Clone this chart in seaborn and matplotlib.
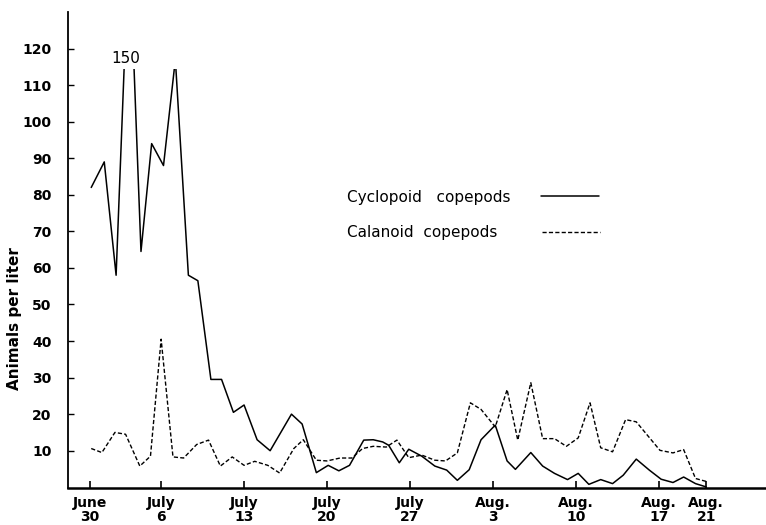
import numpy as np
import pandas as pd
import matplotlib
matplotlib.use('Agg')
import matplotlib.pyplot as plt
import seaborn as sns
from matplotlib.patches import Rectangle
from matplotlib.lines import Line2D

# days after June 30
cyc_day = [0.1, 1.2, 2.2, 3.3, 4.3, 5.2, 6.2, 7.2, 8.3, 9.1,
           10.2, 11.1, 12.1, 13.0, 14.1, 15.2, 17.0, 17.9, 19.1, 20.1,
           21.0, 21.9, 23.1, 23.9, 24.7, 25.2, 26.1, 26.9, 28.0, 29.1,
           30.1, 31.0, 32.0, 33.0, 34.2, 35.2, 35.9, 37.2, 38.2, 39.2,
           40.3, 41.2, 42.1, 43.1, 44.1, 45.0, 46.1, 47.2, 48.2, 49.2,
           50.1, 51.1, 52.0]
cyc_val = [82, 89, 58, 150, 64.5, 94, 88, 117, 58, 56.5,
           29.5, 29.5, 20.5, 22.5, 13, 10, 20, 17.3, 4, 6,
           4.5, 6, 12.9, 13, 12.4, 11.5, 6.7, 10.4, 8.5, 5.8,
           4.7, 1.9, 4.8, 13, 17, 7.2, 4.9, 9.5, 5.8, 3.8,
           2.1, 3.8, 0.8, 2.1, 1.0, 3.3, 7.7, 4.7, 2.2, 1.3,
           2.8, 1.0, 0.1]

cal_day = [0.1, 1.0, 2.1, 3.0, 4.2, 5.1, 6.0, 7.0, 7.9, 9.0,
           10.0, 11.0, 12.0, 13.0, 13.9, 15.0, 16.0, 17.2, 18.0, 19.1,
           20.0, 21.1, 22.1, 23.0, 23.9, 25.0, 25.9, 26.9, 28.0, 29.1,
           30.0, 31.0, 32.1, 33.0, 34.2, 35.2, 36.1, 37.2, 38.2, 39.2,
           40.2, 41.2, 42.2, 43.1, 44.1, 45.2, 46.1, 47.1, 48.1, 49.2,
           50.1, 51.1, 52.0]
cal_val = [10.6, 9.5, 15, 14.5, 5.8, 8.5, 40.5, 8.3, 8.0, 11.7,
           12.9, 5.8, 8.3, 6.0, 7.1, 6.0, 3.9, 10.6, 13, 7.4,
           7.2, 8.0, 8.0, 10.6, 11.2, 11.0, 12.9, 8.1, 8.8, 7.4,
           7.2, 9.4, 23.1, 21.3, 16.5, 26.7, 12.9, 28.6, 13.3, 13.3,
           11.2, 13.5, 23.1, 10.8, 9.7, 18.5, 17.9, 14, 10.1, 9.4,
           10.3, 2.4, 1.6]

tick_days = [0, 6, 13, 20, 27, 34, 41, 48, 52]
tick_labels = ['June\n30', 'July\n6', 'July\n13', 'July\n20', 'July\n27',
               'Aug.\n3', 'Aug.\n10', 'Aug.\n17', 'Aug.\n21']

cyc = pd.DataFrame({'day': cyc_day, 'count': cyc_val})
cal = pd.DataFrame({'day': cal_day, 'count': cal_val})

sns.set_style('ticks')
plt.rcParams['font.family'] = ['DejaVu Sans']
plt.rcParams['text.color'] = 'black'
plt.rcParams['axes.labelcolor'] = 'black'
plt.rcParams['xtick.color'] = 'black'
plt.rcParams['ytick.color'] = 'black'
plt.rcParams['axes.edgecolor'] = 'black'

fig = plt.figure(figsize=(7.66, 5.25), dpi=100)
ax = fig.add_axes([68/766, 37/525, 698/766, 476/525])

dash = (0, (3, 1.6))
sns.lineplot(data=cyc, x='day', y='count', sort=False, estimator=None,
             color='black', lw=1.1, ax=ax, legend=False)
sns.lineplot(data=cal, x='day', y='count', sort=False, estimator=None,
             color='black', lw=1.0, linestyle=dash, ax=ax, legend=False)

# off-scale peak: cut the line below the "150" label
clip = Rectangle((-5, -5), 70, 119.5, transform=ax.transData)
ax.lines[0].set_clip_path(clip)
ax.text(3.0, 117.4, '150', ha='center', va='center', fontsize=11)

ax.set_xlim(-1.86, 57.05)
ax.set_ylim(-0.2, 130)
ax.set_xticks(tick_days, tick_labels)
ax.set_yticks(range(10, 130, 10))
ax.tick_params(axis='x', direction='in', length=5, width=1.2, pad=6, labelsize=10)
ax.tick_params(axis='y', direction='in', length=4, width=1, pad=12, labelsize=10)
for t in ax.get_xticklabels():
    t.set_fontweight('bold')
    t.set_linespacing(1.0)
for t in ax.get_yticklabels():
    t.set_fontweight('bold')

sns.despine(ax=ax)
ax.spines['left'].set_linewidth(1.3)
ax.spines['bottom'].set_linewidth(1.8)

ax.set_xlabel('')
ax.set_ylabel('Animals per liter', fontsize=11, fontweight='bold')
ax.yaxis.set_label_coords(-0.066, 0.357)

leg1 = ax.legend(handles=[Line2D([], [], color='black', lw=1.1)],
                 labels=['Cyclopoid   copepods'], loc='center left',
                 bbox_to_anchor=(0.40, 0.611), frameon=False, markerfirst=False,
                 handlelength=3.8, handletextpad=2.0, borderpad=0,
                 borderaxespad=0, fontsize=11)
ax.add_artist(leg1)
ax.legend(handles=[Line2D([], [], color='black', lw=1.0, linestyle=dash)],
          labels=['Calanoid  copepods'], loc='center left',
          bbox_to_anchor=(0.40, 0.536), frameon=False, markerfirst=False,
          handlelength=3.8, handletextpad=2.9, borderpad=0,
          borderaxespad=0, fontsize=11)

fig.savefig('out.png', dpi=100)
